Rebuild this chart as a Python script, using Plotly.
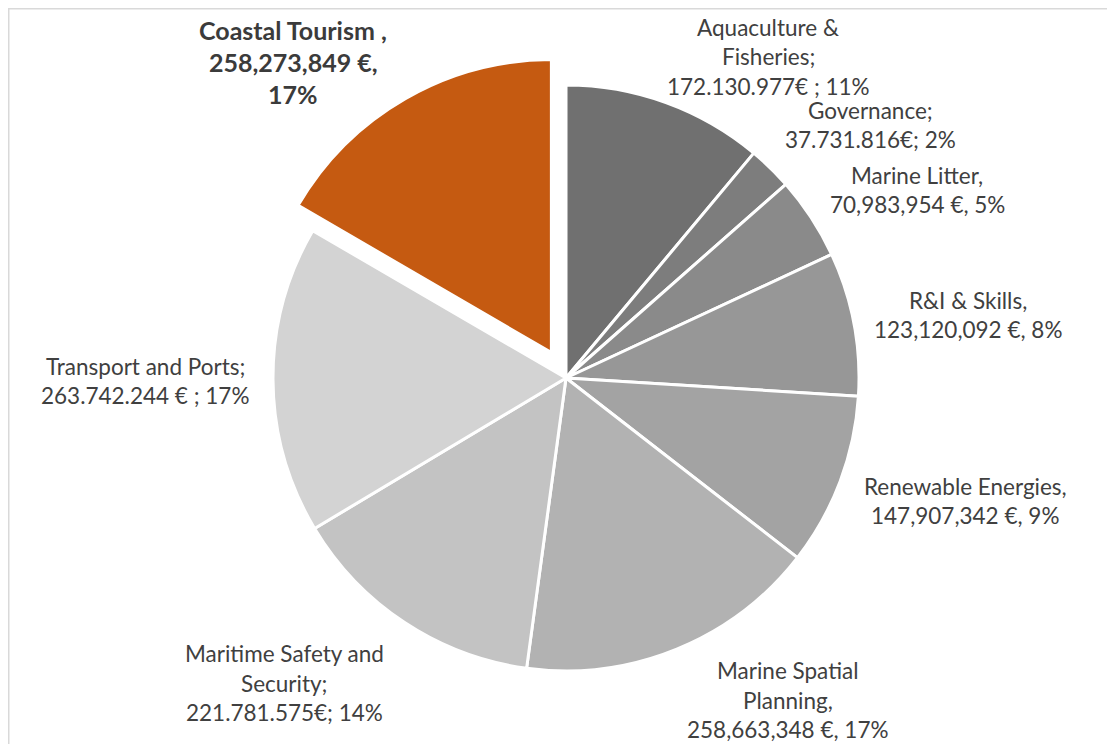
import plotly.graph_objects as go

categories = ["Aquaculture & Fisheries", "Governance", "Marine Litter", "R&I & Skills",
              "Renewable Energies", "Marine Spatial Planning", "Maritime Safety and Security",
              "Transport and Ports", "Coastal Tourism"]
values = [172130977, 37731816, 70983954, 123120092, 147907342, 258663348, 221781575,
          263742244, 258273849]
label_lines = [
    ["Aquaculture &", "Fisheries;", "172.130.977€ ; 11%"],
    ["Governance;", "37.731.816€; 2%"],
    ["Marine Litter,", "70,983,954 €, 5%"],
    ["R&I & Skills,", "123,120,092 €, 8%"],
    ["Renewable Energies,", "147,907,342 €, 9%"],
    ["Marine Spatial", "Planning,", "258,663,348 €, 17%"],
    ["Maritime Safety and", "Security;", "221.781.575€; 14%"],
    ["Transport and Ports;", "263.742.244 € ; 17%"],
    ["Coastal Tourism ,", "258,273,849 €,", "17%"],
]
colors = ["#707070", "#7d7d7d", "#8a8a8a", "#979797", "#a3a3a3", "#b2b2b2",
          "#c3c3c3", "#d3d3d3", "#c55a11"]
pulls = [0, 0, 0, 0, 0, 0, 0, 0, 0.1]

# label block centres in page pixels (layout only)
label_pos = [(768, 57), (870, 125), (917, 190), (968, 315), (965, 501),
             (788, 700), (284, 683), (145, 381), (293, 62)]

OFF = 8  # browser body margin
W, H = 1115 - OFF, 744 - OFF
cx, cy, r = 566 - OFF, 378 - OFF, 293
half = r * (1 + max(pulls))

fig = go.Figure(go.Pie(
    labels=categories, values=values, sort=False, direction="clockwise", rotation=0,
    marker=dict(colors=colors, line=dict(color="white", width=3)),
    pull=pulls, textinfo="none", hoverinfo="label+value+percent", showlegend=False,
    domain=dict(x=[(cx - half) / W, (cx + half) / W], y=[1 - (cy + half) / H, 1 - (cy - half) / H]),
))

annotations = []
for i, lines in enumerate(label_lines):
    px, py = label_pos[i]
    px, py = px - OFF, py - OFF
    n = len(lines)
    bold = categories[i] == "Coastal Tourism"
    line_h = 32.5 if bold else 29.5
    for j, t in enumerate(lines):
        ly = py + (j - (n - 1) / 2) * line_h
        annotations.append(dict(
            x=px / W, y=1 - ly / H, xref="paper", yref="paper", showarrow=False,
            text=f"<b>{t}</b>" if bold else t, xanchor="center", yanchor="middle",
            font=dict(family="Lato", size=25 if bold else 22.5,
                      color="#3b3b3b" if bold else "#404040"),
        ))

fig.update_layout(
    width=W, height=H, margin=dict(l=0, r=0, t=0, b=0),
    paper_bgcolor="white", plot_bgcolor="white", annotations=annotations,
    shapes=[dict(type="rect", xref="paper", yref="paper", x0=0.5 / W, x1=1.02,
                 y0=-0.02, y1=1 - 0.5 / H, line=dict(color="#d9d9d9", width=2))],
)
fig.write_html("out.html")
